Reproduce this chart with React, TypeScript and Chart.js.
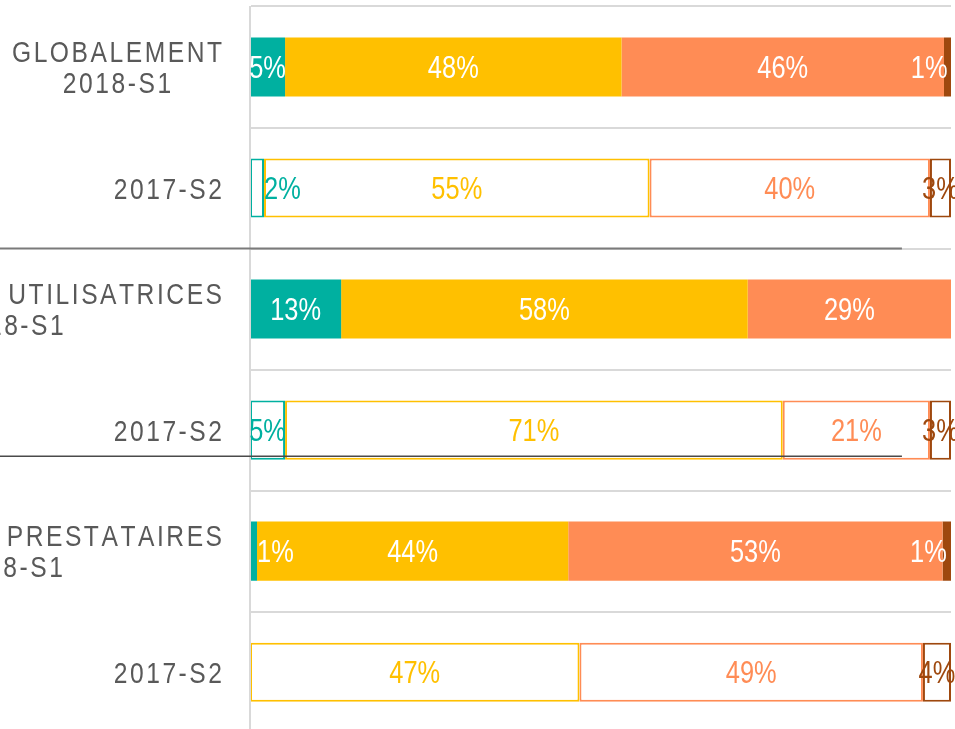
import React, { useEffect, useRef } from 'react';
import { Chart, registerables } from 'chart.js';

Chart.register(...registerables);

// ---- Data ----
const CATEGORIES: string[][] = [
  ['GLOBALEMENT', '2018-S1'],
  ['2017-S2'],
  ['ENTREPRISES UTILISATRICES', '2018-S1'],
  ['2017-S2'],
  ['ENTREPRISES PRESTATAIRES', '2018-S1'],
  ['2017-S2'],
];
const FILLED_PERIOD = '2018-S1';

const SERIES_NAMES = ['Série 1', 'Série 2', 'Série 3', 'Série 4'];
const SERIES_1 = [5, 2, 13, 5, 1, 0];
const SERIES_2 = [48, 55, 58, 71, 44.4, 47];
const SERIES_3 = [46, 40, 29, 21, 53.4, 49];
const SERIES_4 = [1, 3, 0, 3, 1.2, 4];
const SERIES = [SERIES_1, SERIES_2, SERIES_3, SERIES_4];

const X_MIN = 0;
const X_MAX = 100;

// separators between groups, positioned on the category scale (value) and x scale (end)
const SEPARATOR_AT = [1.5, 3.215];
const SEPARATOR_END = 93;

// ---- Styles ----
const SERIES_COLORS = ['#00B0A0', '#FFC000', '#FF8C55', '#9E480E'];
const LABEL_COLOR = '#595959';
const GRID_COLOR = '#d9d9d9';
const SEP_COLORS = ['#7a7a7a', '#4a4a4a'];
const SEP_WIDTHS = [2, 1.5];
const CAT_FONT_SIZE = 30;
const CAT_LINE_HEIGHT = 31;
const CAT_SPACING = 2.55;
const CAT_GAP = 28;
const BAR_FONT_SIZE = 31;

const isFilled = (i: number) => CATEGORIES[i][CATEGORIES[i].length - 1] === FILLED_PERIOD;

let FONT = { family: "'Liberation Sans', Arial, sans-serif", sx: 0.82 };
function detectFont() {
  const c = document.createElement('canvas').getContext('2d');
  if (!c) return;
  const s = 'abcdefghijklmABC123';
  c.font = '40px monospace';
  const a = c.measureText(s).width;
  c.font = "40px 'Liberation Sans Narrow', monospace";
  const b = c.measureText(s).width;
  if (Math.abs(a - b) > 0.5) {
    FONT = { family: "'Liberation Sans Narrow', sans-serif", sx: 1 };
  }
}

function textWidth(ctx: CanvasRenderingContext2D, text: string, size: number, spacing: number) {
  ctx.save();
  ctx.font = `${size}px ${FONT.family}`;
  const chars = Array.from(text);
  let sum = 0;
  chars.forEach((c) => (sum += ctx.measureText(c).width));
  ctx.restore();
  return sum * FONT.sx + spacing * (chars.length - 1);
}

function drawText(
  ctx: CanvasRenderingContext2D,
  text: string,
  x: number,
  y: number,
  align: 'left' | 'center' | 'right',
  size: number,
  color: string,
  spacing: number
) {
  const w = textWidth(ctx, text, size, spacing);
  let x0 = x;
  if (align === 'center') x0 = x - w / 2;
  else if (align === 'right') x0 = x - w;
  ctx.save();
  ctx.font = `${size}px ${FONT.family}`;
  ctx.fillStyle = color;
  ctx.textAlign = 'left';
  ctx.textBaseline = 'alphabetic';
  ctx.translate(x0, y);
  ctx.scale(FONT.sx, 1);
  let cx = 0;
  Array.from(text).forEach((c) => {
    ctx.fillText(c, cx, 0);
    cx += ctx.measureText(c).width + spacing / FONT.sx;
  });
  ctx.restore();
}

const overlayPlugin = {
  id: 'overlay',
  afterDraw(chart: any) {
    const ctx: CanvasRenderingContext2D = chart.ctx;
    const area = chart.chartArea;
    const xs = chart.scales.x;
    const ys = chart.scales.y;

    // group separators
    SEPARATOR_AT.forEach((v, k) => {
      const y = ys.getPixelForValue(v);
      ctx.save();
      ctx.strokeStyle = SEP_COLORS[k];
      ctx.lineWidth = SEP_WIDTHS[k];
      ctx.beginPath();
      ctx.moveTo(0, y);
      ctx.lineTo(xs.getPixelForValue(SEPARATOR_END), y);
      ctx.stroke();
      ctx.restore();
    });

    // category labels: block right-aligned, lines centered within the block
    CATEGORIES.forEach((lines, i) => {
      const cy = ys.getPixelForValue(i);
      const widths = lines.map((l) => textWidth(ctx, l, CAT_FONT_SIZE, CAT_SPACING));
      const blockW = Math.max(...widths);
      const right = area.left - CAT_GAP;
      const cx = right - blockW / 2;
      lines.forEach((l, j) => {
        const y = cy + (j - (lines.length - 1) / 2) * CAT_LINE_HEIGHT + 0.358 * CAT_FONT_SIZE;
        drawText(ctx, l, cx, y, 'center', CAT_FONT_SIZE, LABEL_COLOR, CAT_SPACING);
      });
    });

    // value labels
    const last = chart.data.datasets.length - 1;
    chart.data.datasets.forEach((ds: any, di: number) => {
      const meta = chart.getDatasetMeta(di);
      meta.data.forEach((bar: any, i: number) => {
        const v = ds.data[i];
        if (!v) return;
        const p = bar.getProps(['x', 'y', 'base'], true);
        const left = Math.min(p.x, p.base);
        const right = Math.max(p.x, p.base);
        const segW = right - left;
        const text = Math.round(v) + '%';
        const filled = isFilled(i);
        const color = filled ? '#ffffff' : SERIES_COLORS[di];
        const tw = textWidth(ctx, text, BAR_FONT_SIZE, 0);
        let tx = (left + right) / 2;
        let align: 'left' | 'center' | 'right' = 'center';
        if (tw > segW + 3) {
          if (di === 0) {
            tx = right;
            align = 'left';
          } else if (di === last && filled) {
            align = 'right';
          }
        }
        drawText(ctx, text, tx, p.y + 0.358 * BAR_FONT_SIZE, align, BAR_FONT_SIZE, color, 0);
      });
    });
  },
};

export default function App() {
  const ref = useRef<HTMLCanvasElement | null>(null);

  useEffect(() => {
    if (!ref.current) return;
    detectFont();
    const chart = new Chart(ref.current, {
      type: 'bar',
      data: {
        labels: CATEGORIES.map((l) => l.join(' ')),
        datasets: SERIES.map((vals, k) => ({
          label: SERIES_NAMES[k],
          data: vals,
          backgroundColor: CATEGORIES.map((_, i) => (isFilled(i) ? SERIES_COLORS[k] : '#ffffff')),
          borderColor: SERIES_COLORS[k],
          borderWidth: CATEGORIES.map((_, i) => (isFilled(i) ? 0 : 2)),
          borderSkipped: false,
          barPercentage: 1,
          categoryPercentage: 0.488,
        })),
      },
      options: {
        indexAxis: 'y',
        responsive: false,
        animation: false,
        events: [],
        layout: { padding: { top: 6.5, right: 9, bottom: 7.3, left: 0 } },
        plugins: {
          legend: { display: false },
          tooltip: { enabled: false },
        },
        scales: {
          x: { stacked: true, display: false, min: X_MIN, max: X_MAX },
          y: {
            stacked: true,
            offset: true,
            grid: { offset: true, color: GRID_COLOR, lineWidth: 2, drawTicks: false },
            border: { display: true, color: GRID_COLOR, width: 2, z: 1 },
            ticks: { display: false },
            afterFit: (s: any) => {
              s.width = 250;
            },
          },
        },
      } as any,
      plugins: [overlayPlugin],
    });
    return () => chart.destroy();
  }, []);

  return (
    <div
      style={{
        position: 'fixed',
        left: 0,
        top: 0,
        width: 955,
        height: 729,
        overflow: 'hidden',
        background: '#ffffff',
      }}
    >
      <canvas ref={ref} width={960} height={740} style={{ display: 'block' }} />
    </div>
  );
}
